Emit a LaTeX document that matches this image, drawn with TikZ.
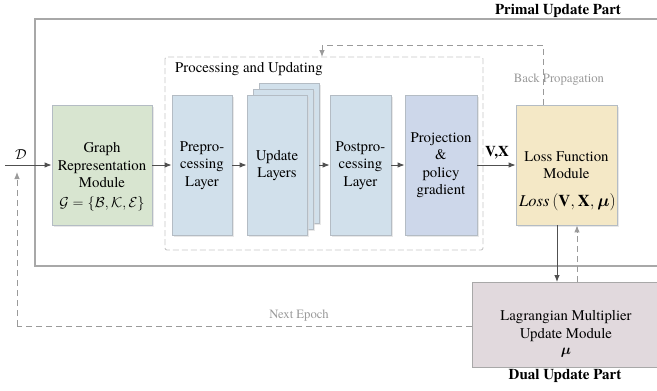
\documentclass[tikz,border=0pt]{standalone}
\usepackage{fontspec}
\usepackage{amsmath,amssymb}
\setmainfont{texgyretermes}[Extension=.otf, UprightFont=*-regular, BoldFont=*-bold, ItalicFont=*-italic, BoldItalicFont=*-bolditalic]
\usetikzlibrary{arrows.meta,shadows}
\definecolor{gcol}{HTML}{D8E5D0}
\definecolor{bcol}{HTML}{D1E0EB}
\definecolor{pcol}{HTML}{CDD7EA}
\definecolor{lcol}{HTML}{F4E8C6}
\definecolor{mcol}{HTML}{E1D9DD}
\definecolor{edgecol}{HTML}{B4BCC4}
\definecolor{framecol}{HTML}{A8A8A8}
\definecolor{dashcol}{HTML}{9A9A9A}
\definecolor{arrcol}{HTML}{505050}
\tikzset{
  boxst/.style={draw=edgecol, line width=0.8pt, drop shadow={shadow xshift=1.5pt, shadow yshift=-1.5pt, fill=black!15, opacity=0.6}},
  txt/.style={align=center, font=\fontsize{14.8}{17.5}\selectfont, inner sep=0pt},
  flow/.style={draw=arrcol, line width=0.9pt, -{Latex[length=7pt,width=5.5pt]}},
  dflow/.style={draw=dashcol, line width=0.9pt, dash pattern=on 6pt off 4pt, -{Latex[length=7pt,width=5.5pt]}},
  dline/.style={draw=dashcol, line width=0.9pt, dash pattern=on 6pt off 4pt},
  grayt/.style={text=dashcol, font=\fontsize{12.7}{15}\selectfont, inner sep=0pt},
  bold/.style={font=\fontsize{15}{17}\selectfont\bfseries, inner sep=0pt}
}
\begin{document}
\begin{tikzpicture}[x=1pt,y=-1pt]
\useasboundingbox (0,0) rectangle (657,391);
\clip (0,0) rectangle (657,391);
\fill[white] (0,0) rectangle (657,391);
% primal frame
\draw[draw=framecol, line width=1.2pt] (35,19) rectangle (700,266);
\node[bold] (primal) at (558,11) {Primal Update Part};
% processing dashed box
\draw[draw=black!22, line width=0.9pt, dash pattern=on 6pt off 3pt, rounded corners=2pt] (165,57) rectangle (483,250);
\node[txt, anchor=west] (proclab) at (175,69) {Processing and Updating};
% boxes
\node[boxst, fill=gcol, minimum width=100pt, minimum height=120pt, inner sep=0pt] (graph) at (102,165) {};
\node[boxst, fill=bcol, minimum width=60pt, minimum height=140pt, inner sep=0pt] (pre) at (202,165) {};
\node[boxst, fill=bcol, minimum width=60pt, minimum height=140pt, inner sep=0pt] (upd3) at (289,153) {};
\node[boxst, fill=bcol, minimum width=60pt, minimum height=140pt, inner sep=0pt] (upd2) at (283,159) {};
\node[boxst, fill=bcol, minimum width=60pt, minimum height=140pt, inner sep=0pt] (upd) at (277,165) {};
\node[boxst, fill=bcol, minimum width=61pt, minimum height=140pt, inner sep=0pt] (post) at (360.5,165) {};
\node[boxst, fill=pcol, minimum width=72pt, minimum height=140pt, inner sep=0pt] (proj) at (441,165) {};
\node[boxst, fill=lcol, minimum width=101pt, minimum height=120pt, inner sep=0pt] (loss) at (566.5,165) {};
\node[draw=framecol, line width=1.2pt, fill=mcol, minimum width=240pt, minimum height=85pt, inner sep=0pt, anchor=north west] (lag) at (472,282) {};
% texts
\node[txt] (graphtxt) at (102,165.5) {Graph\\Representation\\Module};
\node[txt, font=\fontsize{13.5}{16}\selectfont] (graphf) at (102,204) {$\mathcal{G}=\{\mathcal{B},\mathcal{K},\mathcal{E}\}$};
\node[txt] (pretxt) at (202,165.5) {Prepro-\\cessing\\Layer};
\node[txt] (updtxt) at (277,165.5) {Update\\Layers};
\node[txt] (posttxt) at (360.5,165.5) {Postpro-\\cessing\\Layer};
\node[txt] (projtxt) at (441,165) {Projection\\\&\\policy\\gradient};
\node[txt] (losstxt) at (566.5,165) {Loss Function\\Module};
\node[txt, font=\fontsize{16.5}{18}\selectfont] (lossf) at (567.5,202) {$\mathit{Loss}\,(\mathbf{V},\mathbf{X},\boldsymbol{\mu})$};
\node[txt] (lagtxt) at (566,334) {Lagrangian Multiplier\\Update Module\\[-1pt]$\boldsymbol{\mu}$};
\node[bold] (dual) at (565,376) {Dual Update Part};
% input
\coordinate (din) at (5,165);
\draw[flow] (din) -- (graph.west);
\node[txt] (dlab) at (21,155) {$\mathcal{D}$};
% main flow
\draw[flow] (graph.east) -- (pre.west);
\draw[flow] (pre.east) -- (upd.west);
\draw[flow] (upd3.east |- upd.east) -- (post.west);
\draw[flow] (post.east) -- (proj.west);
\draw[flow] (proj.east) -- (loss.west);
\node[txt, font=\fontsize{15}{17}\selectfont\bfseries] (vx) at (497,153) {V,X};
% loss <-> lagrangian
\draw[flow] ([xshift=-9.5pt]loss.south) -- ([xshift=-9.5pt]loss.south |- lag.north);
\draw[dflow] ([xshift=10.5pt]loss.south |- lag.north) -- ([xshift=10.5pt]loss.south);
% back propagation
\coordinate (bp1) at (543,45);
\coordinate (bp2) at (322,45);
\coordinate (bp3) at (322,57);
\draw[dline] ([xshift=-23.5pt]loss.north) -- (bp1) -- (bp2);
\draw[dflow] (bp2) -- (bp3);
\node[grayt] (bplab) at (559,80) {Back Propagation};
% next epoch
\coordinate (ne1) at (17,326);
\coordinate (ne2) at (17,172);
\draw[dline] (lag.west |- ne1) -- (ne1);
\draw[dflow] (ne1) -- (ne2);
\node[grayt] (nelab) at (299,316) {Next Epoch};
\end{tikzpicture}
\end{document}
